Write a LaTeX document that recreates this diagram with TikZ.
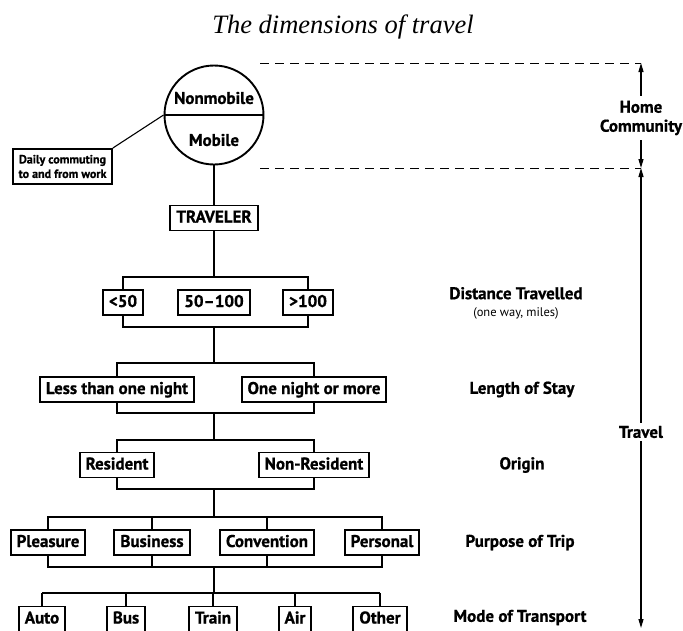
\documentclass[tikz,border=0pt]{standalone}
\usepackage{fontspec}
\setmainfont[BoldFeatures={FakeBold=0.8}]{PT Sans}
\newfontfamily\titlefont{Liberation Serif}
\usetikzlibrary{arrows.meta,backgrounds}

\newcommand{\lblfont}{\fontsize{17}{19}\selectfont\bfseries}
\newcommand{\notefont}{\fontsize{12}{14.5}\selectfont\bfseries}

\tikzset{
  box/.style={draw, line width=1.9pt, fill=white, font=\lblfont,
    inner xsep=6pt, inner ysep=0pt, minimum height=25pt,
    text height=12.5pt, text depth=3.5pt},
  link/.style={line width=1.1pt},
  side/.style={font=\lblfont},
  guide/.style={line width=1pt, dash pattern=on 9pt off 6pt},
  span/.style={line width=1.2pt, -{Triangle[length=9pt,width=5pt]}},
}

\begin{document}
\begin{tikzpicture}[x=1pt,y=-1pt]
  \useasboundingbox (0,0) rectangle (683,630);
  \clip (0,0) rectangle (683,630);

  \node[font=\titlefont\itshape\fontsize{26.5}{30}\selectfont, anchor=base] at (343,33) (title) {The dimensions of travel};

  % home community circle
  \node[draw, circle, line width=1.9pt, minimum size=99pt, inner sep=0pt] at (214,115) (home) {};
  \draw[line width=1.9pt] (home.west) -- (home.east);
  \node[side] at (214,98) (nonmob) {Nonmobile};
  \node[side] at (214,140) (mob) {Mobile};
  \node[draw, line width=1.7pt, align=center, font=\notefont, inner xsep=5.5pt, inner ysep=6pt] at (62.5,166.5) (daily) {Daily commuting\\to and from work};

  \node[box] at (214,218) (trav) {TRAVELER};

  % distance
  \node[box] at (123,302.5) (lt50) {<50};
  \node[box] at (214,302.5) (mid50) {50--100};
  \node[box] at (308,302.5) (gt100) {>100};
  \coordinate (b1t) at (214,277);
  \coordinate (b1b) at (214,327);

  % length of stay
  \node[box] at (117,389.5) (less) {Less than one night};
  \node[box] at (314,389.5) (more) {One night or more};
  \coordinate (b2t) at (214,363);
  \coordinate (b2b) at (214,413);

  % origin
  \node[box] at (117,465) (res) {Resident};
  \node[box] at (314,465) (nonres) {Non-Resident};
  \coordinate (b3t) at (214,440);
  \coordinate (b3b) at (214,489);

  % purpose
  \node[box] at (48,542.5) (plea) {Pleasure};
  \node[box] at (152,542.5) (busi) {Business};
  \node[box] at (267,542.5) (conv) {Convention};
  \node[box] at (382,542.5) (pers) {Personal};
  \coordinate (b4t) at (214,517);
  \coordinate (b4b) at (214,567);

  % mode
  \node[box] at (42,619) (auto) {Auto};
  \node[box] at (126,619) (bus) {Bus};
  \node[box] at (213,619) (train) {Train};
  \node[box] at (295,619) (air) {Air};
  \node[box] at (380,619) (other) {Other};
  \coordinate (b5t) at (214,593);

  \begin{scope}[on background layer]
    \draw[link] (daily.north east) -- (home.west);
    \draw[link] (home) -- (trav);
    \draw[link] (trav) -- (b1t);
    \draw[link] (lt50 |- b1t) rectangle (gt100 |- b1b);
    \draw[link] (b1b) -- (b2t);
    \draw[link] (less |- b2t) rectangle (more |- b2b);
    \draw[link] (b2b) -- (b3t);
    \draw[link] (res |- b3t) rectangle (nonres |- b3b);
    \draw[link] (b3b) -- (b4t);
    \draw[link] (plea |- b4t) rectangle (pers |- b4b);
    \draw[link] (busi |- b4t) -- (busi |- b4b);
    \draw[link] (conv |- b4t) -- (conv |- b4b);
    \draw[link] (b4b) -- (b5t);
    \draw[link] (auto |- b5t) -- (other |- b5t);
    \foreach \m in {auto,bus,train,air,other}
      \draw[link] (\m |- b5t) -- (\m);
  \end{scope}

  % dimension labels
  \node[side, align=center] at (516,303) (dist) {Distance Travelled\\[-2pt]{\fontsize{12.5}{14}\selectfont\mdseries (one way, miles)}};
  \node[side] at (522,389.5) (stay) {Length of Stay};
  \node[side] at (522,465) (orig) {Origin};
  \node[side] at (520,542.5) (purp) {Purpose of Trip};
  \node[side] at (520,617.5) (mode) {Mode of Transport};

  % extent arrows
  \coordinate (topdash) at (260,63);
  \coordinate (middash) at (260,168);
  \coordinate (topmark) at (641,63);
  \coordinate (midmark) at (641,168);
  \coordinate (endmark) at (641,628);
  \draw[guide] (topdash) -- (topmark);
  \draw[guide] (middash) -- (midmark);
  \node[side, align=center, inner ysep=5pt] at (641,118) (hcom) {Home\\Community};
  \draw[span] (hcom) -- (topmark);
  \draw[span] (hcom) -- (midmark);
  \node[side, inner ysep=3pt] at (641,432) (trvl) {Travel};
  \draw[span] (trvl) -- (midmark);
  \draw[span] (trvl) -- (endmark);
\end{tikzpicture}
\end{document}
